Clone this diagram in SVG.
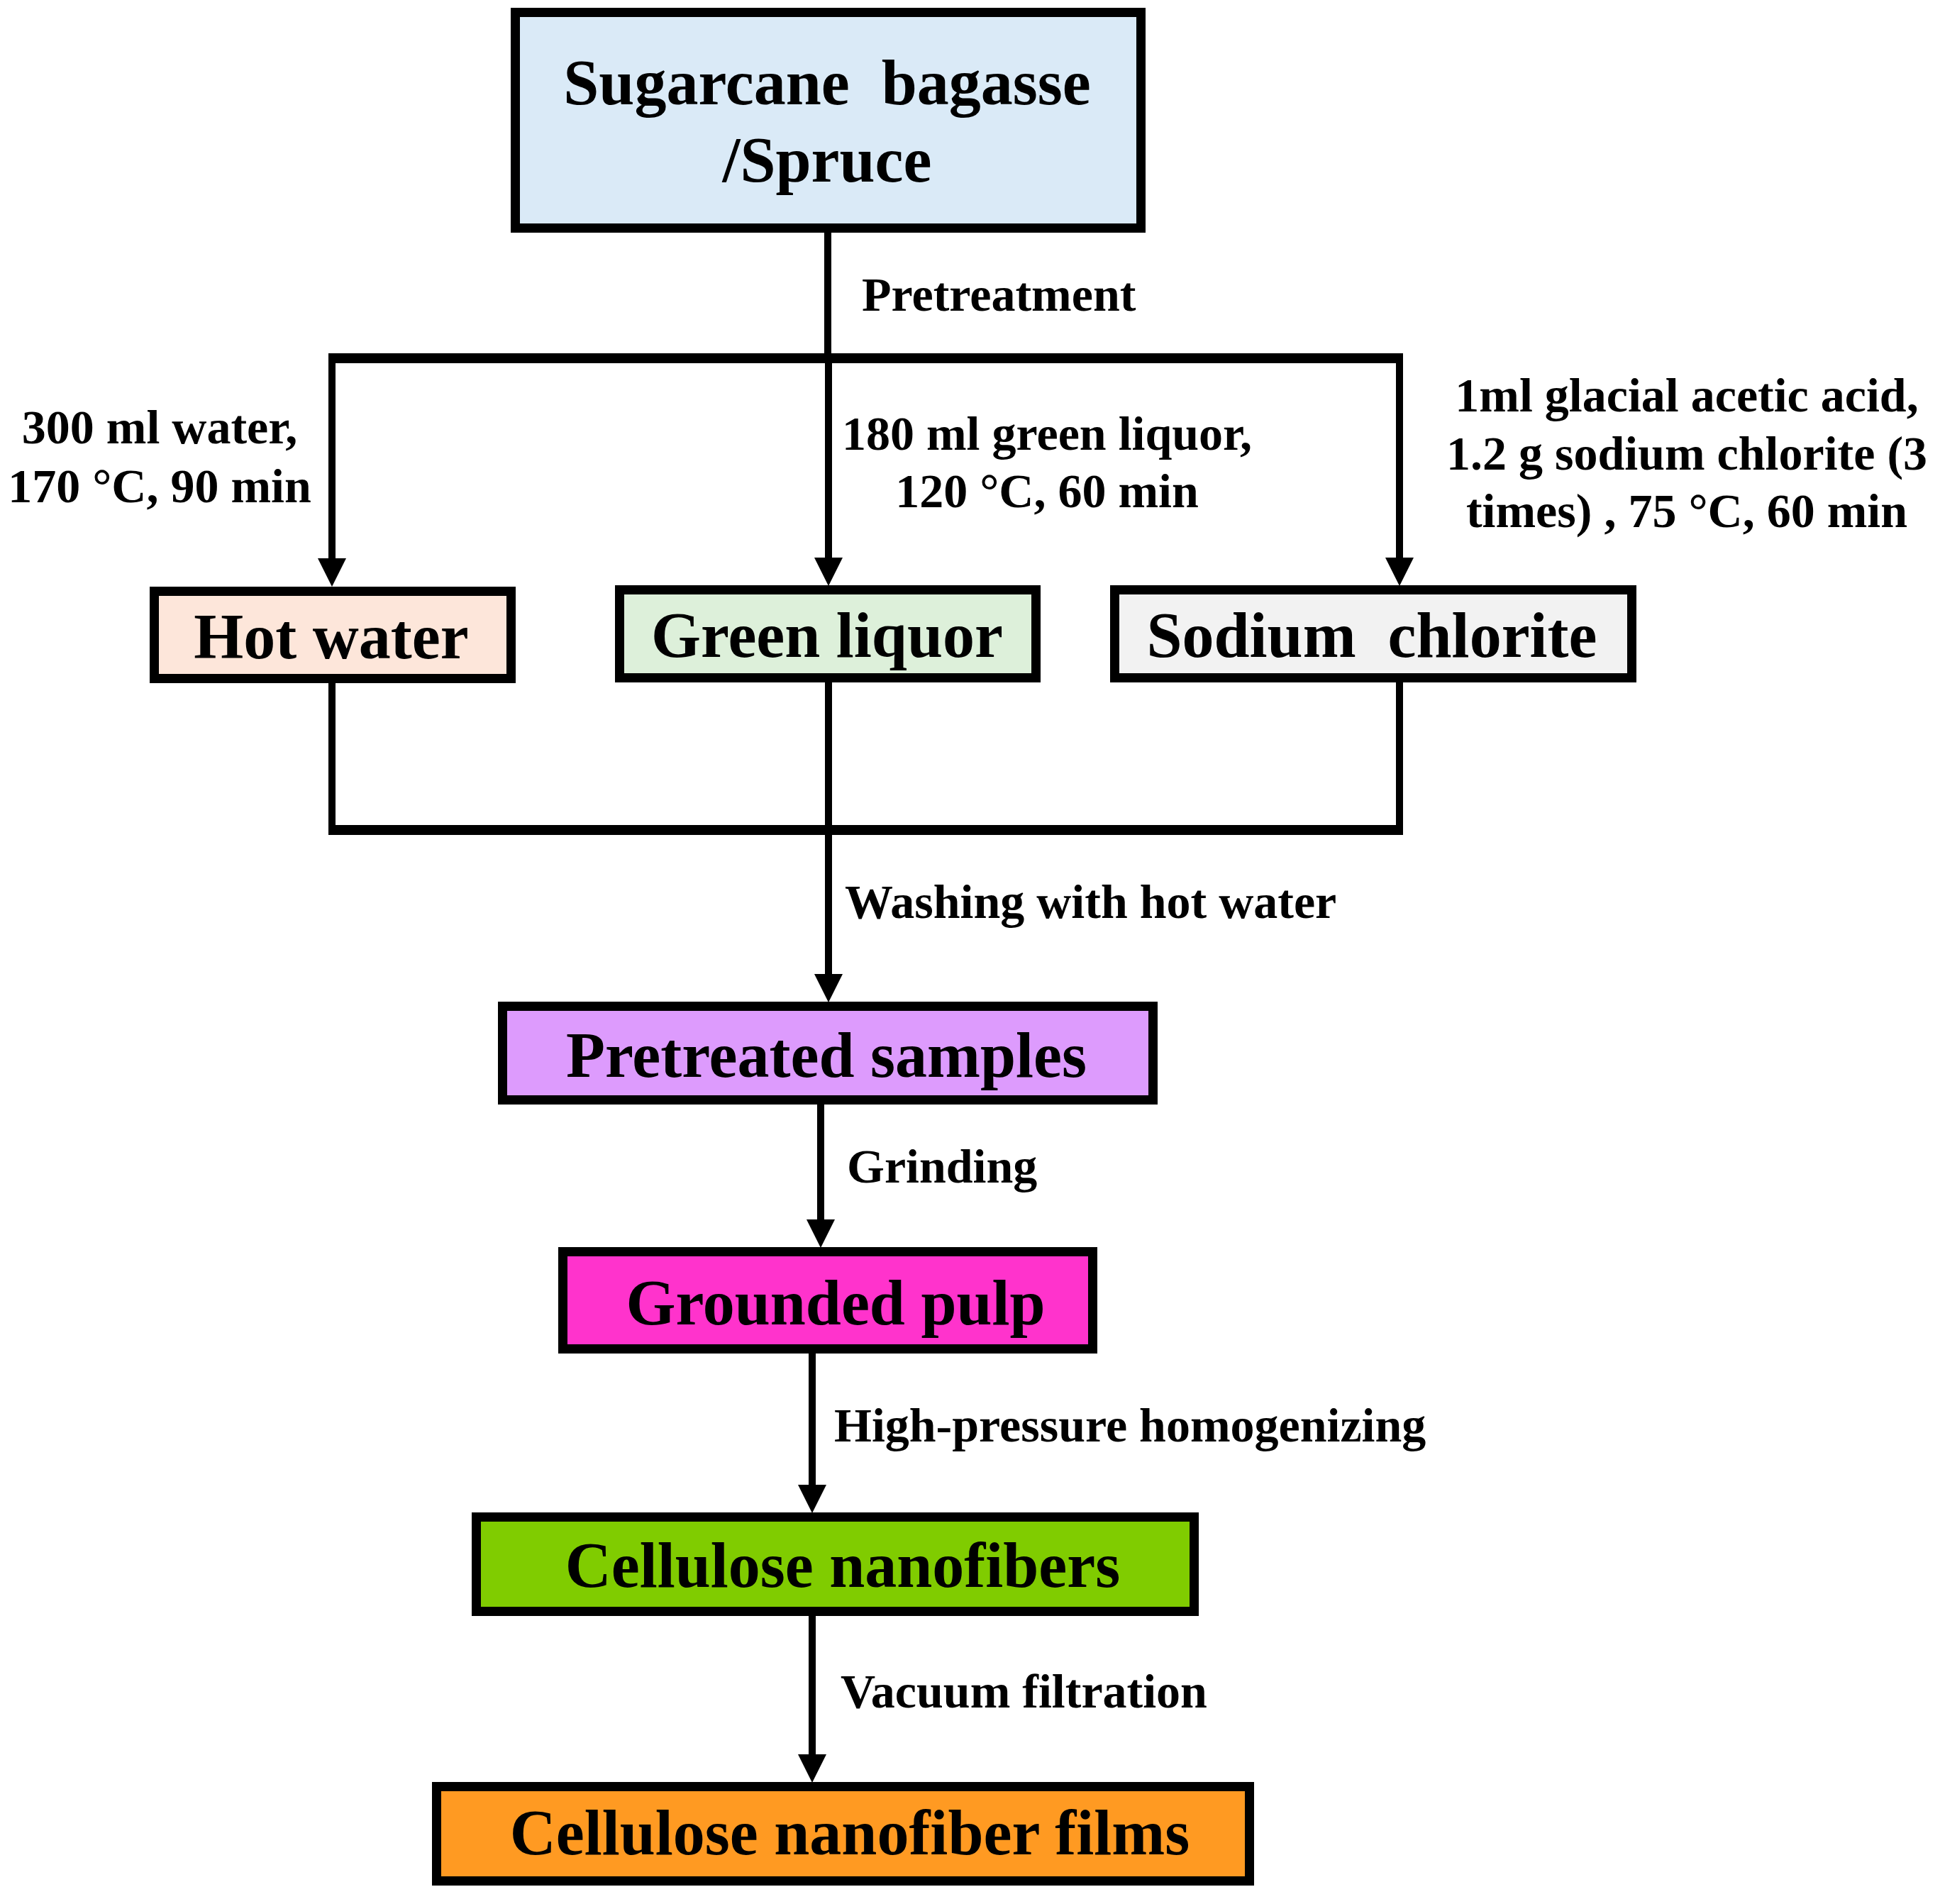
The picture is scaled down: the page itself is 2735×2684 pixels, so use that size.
<svg xmlns="http://www.w3.org/2000/svg" width="2735" height="2684" viewBox="0 0 2735 2684">
<style>
.box{stroke:#000;stroke-width:13}
.lbl{font-family:"Liberation Serif","Times New Roman",serif;font-weight:bold;font-size:90px;fill:#000;text-anchor:middle}
.note{font-family:"Liberation Serif","Times New Roman",serif;font-weight:bold;font-size:68px;fill:#000}
.v{stroke:#000;stroke-width:10;fill:none}
.h{stroke:#000;stroke-width:14;fill:none}
</style>
<defs>
<marker id="arr" markerUnits="userSpaceOnUse" markerWidth="40" markerHeight="42" refX="8" refY="20" orient="auto">
<path d="M0,0 L40,20 L0,40 z" fill="#000"/>
</marker>
</defs>
<rect width="2735" height="2684" fill="#fff"/>
<g id="connectors">
<line class="v" x1="1167" y1="328" x2="1167" y2="505"/>
<line class="h" x1="463" y1="505" x2="1978" y2="505"/>
<line class="v" x1="468" y1="505" x2="468" y2="795" marker-end="url(#arr)"/>
<line class="v" x1="1168" y1="505" x2="1168" y2="794" marker-end="url(#arr)"/>
<line class="v" x1="1973" y1="505" x2="1973" y2="794" marker-end="url(#arr)"/>
<line class="v" x1="468" y1="962" x2="468" y2="1170"/>
<line class="v" x1="1168" y1="962" x2="1168" y2="1170"/>
<line class="v" x1="1973" y1="962" x2="1973" y2="1170"/>
<line class="h" x1="463" y1="1170" x2="1978" y2="1170"/>
<line class="v" x1="1168" y1="1170" x2="1168" y2="1381" marker-end="url(#arr)"/>
<line class="v" x1="1157" y1="1557" x2="1157" y2="1727" marker-end="url(#arr)"/>
<line class="v" x1="1145" y1="1908" x2="1145" y2="2101" marker-end="url(#arr)"/>
<line class="v" x1="1145" y1="2278" x2="1145" y2="2481" marker-end="url(#arr)"/>
<text class="note" x="1215" y="438">Pretreatment</text>
<text class="note" x="225" y="625" text-anchor="middle">300 ml water,</text>
<text class="note" x="225" y="708" text-anchor="middle">170 °C, 90 min</text>
<text class="note" x="1476" y="634" text-anchor="middle">180 ml green liquor,</text>
<text class="note" x="1476" y="715" text-anchor="middle">120 °C, 60 min</text>
<text class="note" x="2378" y="580" text-anchor="middle">1ml glacial acetic acid,</text>
<text class="note" x="2378" y="662" text-anchor="middle">1.2 g sodium chlorite (3</text>
<text class="note" x="2378" y="743" text-anchor="middle">times) , 75 °C, 60 min</text>
<text class="note" x="1191" y="1294">Washing with hot water</text>
<text class="note" x="1194" y="1667">Grinding</text>
<text class="note" x="1176" y="2032">High-pressure homogenizing</text>
<text class="note" x="1185" y="2407">Vacuum filtration</text>
</g>
<g id="node-source">
<rect class="box" x="726.5" y="17.5" width="882" height="304" fill="#DAEAF7"/>
<text class="lbl" x="1166" y="147">Sugarcane&#160; bagasse</text>
<text class="lbl" x="1166" y="256">/Spruce</text>
</g>
<g id="node-hotwater">
<rect class="box" x="217.5" y="833.5" width="503" height="123" fill="#FDE6DA"/>
<text class="lbl" x="467" y="928">Hot water</text>
</g>
<g id="node-greenliquor">
<rect class="box" x="873.5" y="831.5" width="587" height="124" fill="#DDF0DA"/>
<text class="lbl" x="1166" y="926">Green liquor</text>
</g>
<g id="node-sodiumchlorite">
<rect class="box" x="1571.5" y="831.5" width="729" height="124" fill="#F2F2F2"/>
<text class="lbl" x="1934" y="926">Sodium&#160; chlorite</text>
</g>
<g id="node-pretreated">
<rect class="box" x="708.5" y="1418.5" width="917" height="132" fill="#DD9BFD"/>
<text class="lbl" x="1165" y="1518">Pretreated samples</text>
</g>
<g id="node-grounded">
<rect class="box" x="793.5" y="1764.5" width="747" height="137" fill="#FF33CC"/>
<text class="lbl" x="1178" y="1867">Grounded pulp</text>
</g>
<g id="node-cnf">
<rect class="box" x="671.5" y="2138.5" width="1012" height="133" fill="#80CC00"/>
<text class="lbl" x="1188" y="2237">Cellulose nanofibers</text>
</g>
<g id="node-films">
<rect class="box" x="615.5" y="2518.5" width="1146" height="133" fill="#FF9A22"/>
<text class="lbl" x="1198" y="2614">Cellulose nanofiber films</text>
</g>
</svg>
